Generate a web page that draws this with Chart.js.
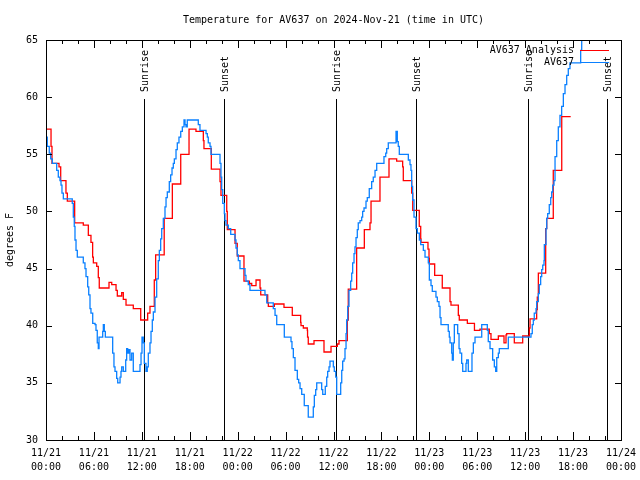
<!DOCTYPE html>
<html>
<head>
<meta charset="utf-8">
<title>Temperature for AV637</title>
<script src="https://cdn.jsdelivr.net/npm/chart.js@4/dist/chart.umd.min.js"></script>
<style>
  html, body { margin: 0; padding: 0; background: #fff; }
</style>
</head>
<body>
<canvas id="canvas" width="640" height="480"></canvas>
<script>
// time axis is hours since 2024-11-21 00:00 UTC, values in degrees F
var analysisHours = [0, 0.63, 0.75, 1.63, 1.84, 2.5, 2.67, 3.59, 4.67, 5.3, 5.63, 5.84, 5.93, 6.35, 6.55, 6.67,
  7.89, 8.23, 8.77, 8.93, 9.48, 9.68, 10.02, 10.93, 11.86, 12.73, 13.02, 13.56, 13.73, 14.8, 15.82, 16.87,
  17.91, 18.78, 19.7, 19.78, 20.7, 21.79, 21.91, 22.63, 22.7, 23.67, 23.95, 24.79, 25.46, 25.76, 26.3, 26.8,
  26.89, 27.76, 27.84, 28.59, 29.8, 30.84, 31.89, 31.93, 32.22, 32.72, 32.75, 32.84, 33.56, 34.81, 35.69,
  36.48, 36.69, 37.73, 37.85, 38.9, 39.86, 40.57, 40.7, 41.82, 42.95, 43.91, 44.66, 44.74, 45.79, 45.92,
  46.74, 46.92, 46.96, 47.83, 47.96, 48.0, 48.67, 49.62, 50.59, 50.71, 51.63, 51.75, 52.76, 53.65, 54.34,
  55.51, 55.72, 56.64, 57.35, 57.6, 57.69, 58.64, 59.69, 60.52, 60.61, 61.44, 61.52, 61.65, 62.57, 62.7,
  63.52, 64.58, 65.7];
var analysisTemps = [57.2, 55.7, 54.2, 53.9, 52.7, 51.6, 50.9, 49.0, 48.8, 47.9, 47.3, 46.0, 45.5, 45.2, 44.2, 43.3,
  43.8, 43.6, 43.1, 42.6, 42.9, 42.3, 41.8, 41.5, 40.5, 41.1, 41.7, 44.0, 46.2, 49.4, 52.4, 55.0,
  57.2, 57.0, 56.2, 55.5, 53.7, 52.6, 51.4, 50.0, 48.4, 47.2, 46.1, 43.9, 43.7, 43.5, 44.0, 43.3,
  42.7, 42.0, 41.7, 41.9, 41.6, 40.9, 40.3, 40.0, 39.8, 39.6, 39.0, 38.4, 38.7, 37.7, 38.2,
  38.4, 38.7, 40.5, 43.2, 46.8, 48.4, 49.0, 50.9, 53.0, 54.6, 54.4, 53.9, 52.7, 51.6, 50.1,
  48.7, 47.6, 47.3, 46.7, 45.9, 45.4, 44.4, 43.3, 42.1, 41.8, 40.9, 40.5, 40.2, 39.6, 39.7,
  39.3, 38.8, 39.1, 38.5, 39.2, 39.3, 38.5, 39.1, 39.8, 40.6, 41.4, 42.5, 44.6, 48.5, 49.4,
  53.6, 58.3, 58.3];

var obsHours = [0, 0.16, 0.41, 0.59, 0.79, 1.34, 1.54, 1.75, 1.88, 2.0, 2.17, 3.29, 3.42, 3.54, 3.63, 3.76, 3.92,
  4.67, 4.88, 5.01, 5.22, 5.35, 5.51, 5.63, 5.85, 6.14, 6.26, 6.42, 6.55, 6.64, 7.1, 7.18, 7.3, 7.43,
  8.35, 8.51, 8.64, 8.85, 8.98, 9.27, 9.39, 9.48, 9.68, 9.98, 10.1, 10.23, 10.39, 10.52, 10.73, 10.93,
  11.77, 11.9, 12.02, 12.18, 12.31, 12.52, 12.68, 12.81, 13.02, 13.15, 13.31, 13.44, 13.65, 13.86, 14.06,
  14.19, 14.36, 14.49, 14.69, 14.9, 15.03, 15.19, 15.44, 15.61, 15.78, 15.94, 16.07, 16.28, 16.44, 16.65,
  16.87, 17.07, 17.28, 17.41, 17.53, 17.69, 19.07, 19.28, 20.04, 20.2, 20.32, 20.54, 20.66, 21.79, 21.91,
  22.0, 22.13, 22.33, 22.41, 22.54, 22.83, 23.13, 23.67, 23.79, 23.95, 24.08, 24.29, 24.92, 25.04, 25.33,
  25.54, 27.42, 27.64, 28.46, 28.68, 28.89, 29.84, 30.68, 30.8, 30.97, 31.18, 31.47, 31.64, 31.81, 32.02,
  32.34, 32.84, 33.47, 33.6, 33.77, 33.9, 34.52, 34.65, 34.97, 35.15, 35.27, 35.44, 35.56, 35.98, 36.1,
  36.28, 36.4, 36.9, 37.03, 37.15, 37.32, 37.44, 37.57, 37.65, 37.78, 37.94, 38.15, 38.28, 38.4, 38.57,
  38.69, 38.82, 38.98, 39.1, 39.32, 39.53, 39.65, 39.82, 40.07, 40.23, 40.48, 40.78, 40.98, 41.2, 41.41,
  42.32, 42.54, 42.66, 42.86, 43.83, 43.99, 44.11, 44.24, 45.37, 45.58, 45.7, 45.79, 45.91, 46.08, 46.33,
  46.5, 46.75, 46.92, 47.25, 47.46, 47.87, 48.0, 48.21, 48.37, 48.83, 49.0, 49.21, 49.34, 49.46, 50.37,
  50.5, 50.59, 50.8, 50.88, 51.0, 51.13, 51.55, 51.72, 51.84, 52.05, 52.18, 52.59, 52.68, 52.88, 53.34,
  53.51, 53.72, 54.56, 55.26, 55.38, 55.6, 55.93, 56.14, 56.31, 56.44, 56.64, 56.76, 57.89, 60.73, 60.89,
  61.02, 61.14, 61.36, 61.44, 61.65, 61.77, 61.94, 62.07, 62.2, 62.36, 62.4, 62.61, 62.7, 62.82, 63.02,
  63.2, 63.32, 63.45, 63.61, 63.74, 63.95, 64.15, 64.36, 64.57, 64.78, 64.99, 65.2, 65.4, 65.61, 66.95,
  67.08, 67.5];
var obsTemps = [56.5, 55.7, 55.1, 54.6, 54.2, 53.6, 53.0, 52.7, 52.3, 51.6, 51.1, 50.7, 49.5, 48.7, 47.5, 46.6, 46.0,
  45.5, 45.0, 44.3, 43.4, 42.7, 41.5, 41.1, 40.2, 40.1, 39.6, 38.5, 38.0, 39.0, 39.5, 40.1, 39.5, 39.0,
  37.6, 36.4, 36.0, 35.4, 35.0, 35.5, 36.0, 36.4, 36.0, 37.0, 38.0, 37.6, 37.9, 37.0, 37.6, 36.0,
  36.6, 37.6, 39.0, 38.5, 36.7, 36.0, 36.4, 37.6, 38.5, 39.5, 40.5, 41.2, 42.5, 44.1, 45.7,
  46.6, 47.6, 48.5, 49.4, 50.4, 51.2, 51.7, 52.6, 53.2, 53.8, 54.2, 54.6, 55.4, 56.0, 56.5,
  57.0, 57.4, 58.0, 57.6, 57.4, 58.0, 57.6, 57.1, 56.8, 56.5, 56.0, 55.7, 55.0, 54.2, 53.0,
  51.9, 50.7, 49.8, 49.2, 48.8, 48.5, 48.0, 47.5, 46.8, 46.2, 45.7, 45.0, 44.4, 43.9, 43.6,
  43.1, 42.7, 42.0, 41.5, 40.9, 40.1, 39.0, 38.6, 38.0, 37.2, 36.1, 35.3, 35.0, 34.5, 34.0,
  33.0, 32.0, 32.9, 33.9, 34.4, 35.0, 34.4, 34.0, 34.7, 35.5, 36.0, 36.4, 36.9, 36.4, 36.0,
  35.5, 34.0, 35.0, 36.1, 36.9, 37.1, 38.0, 39.3, 40.5, 41.7, 43.1, 43.9, 44.6, 45.5, 46.3,
  46.9, 47.7, 48.4, 49.0, 49.2, 49.5, 50.0, 50.3, 50.9, 51.2, 52.0, 52.6, 53.0, 53.6, 54.2,
  54.8, 55.1, 55.5, 56.0, 57.0, 56.1, 55.7, 55.0, 54.5, 54.1, 53.6, 52.2, 51.0, 49.5, 48.5,
  48.1, 47.5, 47.1, 46.6, 46.0, 45.5, 44.0, 43.5, 43.0, 42.5, 42.1, 41.7, 40.7, 40.1, 39.5,
  39.0, 38.5, 37.6, 37.0, 38.5, 40.1, 39.3, 38.0, 37.6, 36.7, 36.0, 36.7, 37.0, 36.0, 37.6,
  38.5, 39.0, 40.1, 39.6, 38.6, 38.0, 37.0, 36.4, 36.0, 37.2, 37.6, 38.0, 39.0, 39.3, 40.1,
  40.5, 41.1, 41.5, 42.1, 42.8, 43.6, 44.3, 44.9, 45.3, 45.7, 47.1, 48.5, 49.4, 49.8, 50.6,
  51.2, 51.7, 52.3, 52.7, 54.8, 56.2, 57.4, 58.4, 59.2, 60.3, 61.1, 61.9, 62.5, 63.0, 64.1,
  65.6, 66.5];

var sunHours = [12.3, 22.32, 36.31, 46.33, 60.4, 70.3];
var sunLabels = ['Sunrise', 'Sunset', 'Sunrise', 'Sunset', 'Sunrise', 'Sunset'];

var xTickLabels = [
  ['11/21', '00:00'], ['11/21', '06:00'], ['11/21', '12:00'], ['11/21', '18:00'],
  ['11/22', '00:00'], ['11/22', '06:00'], ['11/22', '12:00'], ['11/22', '18:00'],
  ['11/23', '00:00'], ['11/23', '06:00'], ['11/23', '12:00'], ['11/23', '18:00'],
  ['11/24', '00:00']
];

var FONT = '"DejaVu Sans Mono", "Liberation Mono", monospace';

function pairs(xs, ys) {
    var out = [];
    for (var i = 0; i < xs.length; i++) out.push({x: xs[i], y: ys[i]});
    return out;
}

// sunrise / sunset markers, inward ticks, frame and legend
var overlay = {
    id: 'overlay',
    beforeDatasetsDraw: function(chart) {
        var ctx = chart.ctx, a = chart.chartArea, xs = chart.scales.x;
        ctx.save();
        ctx.strokeStyle = '#000';
        ctx.fillStyle = '#000';
        ctx.lineWidth = 1;
        ctx.font = '10px ' + FONT;
        for (var i = 0; i < sunHours.length; i++) {
            var px = Math.round(xs.getPixelForValue(sunHours[i])) + 0.5;
            ctx.beginPath();
            ctx.moveTo(px, a.top + 59);
            ctx.lineTo(px, a.bottom);
            ctx.stroke();
            ctx.save();
            ctx.translate(px + 1, a.top + 52);
            ctx.rotate(-Math.PI / 2);
            ctx.textAlign = 'left';
            ctx.textBaseline = 'middle';
            ctx.fillText(sunLabels[i], 0, 0);
            ctx.restore();
        }
        ctx.restore();
    },
    afterDatasetsDraw: function(chart) {
        var ctx = chart.ctx, a = chart.chartArea;
        var xs = chart.scales.x, ys = chart.scales.y;
        ctx.save();
        ctx.strokeStyle = '#000';
        ctx.lineWidth = 1;
        ctx.beginPath();
        for (var h = xs.min; h <= xs.max; h += 2) {
            var px = Math.round(xs.getPixelForValue(h)) + 0.5;
            var len = (h % 6 === 0) ? 8 : 4;
            ctx.moveTo(px, a.bottom); ctx.lineTo(px, a.bottom - len);
            ctx.moveTo(px, a.top); ctx.lineTo(px, a.top + len);
        }
        for (var t = ys.min; t <= ys.max; t += 5) {
            var py = Math.round(ys.getPixelForValue(t)) + 0.5;
            ctx.moveTo(a.left, py); ctx.lineTo(a.left + 6, py);
            ctx.moveTo(a.right, py); ctx.lineTo(a.right - 6, py);
        }
        ctx.stroke();
        ctx.strokeRect(Math.round(a.left) + 0.5, Math.round(a.top) + 0.5,
            Math.round(a.right - a.left), Math.round(a.bottom - a.top));

        // legend, gnuplot style: label then sample line
        ctx.font = '10px ' + FONT;
        ctx.textAlign = 'right';
        ctx.textBaseline = 'middle';
        chart.data.datasets.forEach(function(ds, i) {
            var ly = Math.round(a.top + 10 + i * 12) + 0.5;
            ctx.fillStyle = '#000';
            ctx.fillText(ds.label, a.right - 47, ly);
            ctx.strokeStyle = ds.borderColor;
            ctx.beginPath();
            ctx.moveTo(a.right - 41, ly);
            ctx.lineTo(a.right - 12, ly);
            ctx.stroke();
        });
        ctx.restore();
    }
};

new Chart(document.getElementById('canvas'), {
    type: 'line',
    data: {
        datasets: [{
            label: 'AV637 Analysis',
            data: pairs(analysisHours, analysisTemps),
            borderColor: '#ff0000',
            borderWidth: 1.3,
            stepped: true,
            pointRadius: 0,
            fill: false,
            order: 2
        }, {
            label: 'AV637',
            data: pairs(obsHours, obsTemps),
            borderColor: '#0a80ff',
            borderWidth: 1.3,
            stepped: true,
            pointRadius: 0,
            fill: false,
            order: 1
        }]
    },
    options: {
        responsive: false,
        animation: false,
        devicePixelRatio: 1,
        layout: { padding: { left: 0, right: 19, top: 0, bottom: 0 } },
        plugins: {
            legend: { display: false },
            tooltip: { enabled: false },
            title: {
                display: true,
                text: 'Temperature for AV637 on 2024-Nov-21 (time in UTC)',
                fullSize: false,
                color: '#000',
                font: { family: FONT, size: 10, weight: 'normal', lineHeight: 1.2 },
                padding: { top: 14, bottom: 14 }
            }
        },
        scales: {
            x: {
                type: 'linear',
                min: 0,
                max: 72,
                grid: { display: false, drawTicks: false },
                border: { display: false },
                ticks: {
                    stepSize: 6,
                    padding: 6,
                    autoSkip: false,
                    maxRotation: 0,
                    color: '#000',
                    font: { family: FONT, size: 10, lineHeight: 1.4 },
                    callback: function(v) { return xTickLabels[Math.round(v / 6)]; }
                },
                afterFit: function(s) {
                    s.height = 40;
                    s.paddingLeft = 0;
                    s.paddingRight = 0;
                }
            },
            y: {
                min: 30,
                max: 65,
                grid: { display: false, drawTicks: false },
                border: { display: false },
                ticks: {
                    stepSize: 5,
                    padding: 8,
                    color: '#000',
                    font: { family: FONT, size: 10 }
                },
                title: {
                    display: true,
                    text: 'degrees F',
                    color: '#000',
                    font: { family: FONT, size: 10, lineHeight: 1.2 },
                    padding: { top: 4, bottom: 0 }
                },
                afterFit: function(s) {
                    s.width = 46;
                    s.paddingTop = 0;
                    s.paddingBottom = 0;
                }
            }
        }
    },
    plugins: [overlay]
});
</script>
</body>
</html>
